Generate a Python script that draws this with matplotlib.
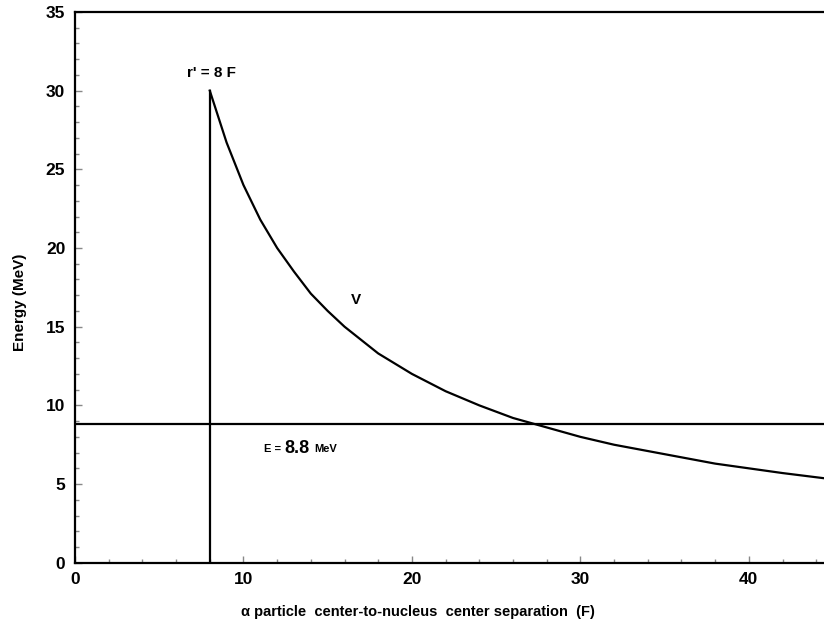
import matplotlib.pyplot as plt
from matplotlib.ticker import MultipleLocator

# separation r (F) and potential barrier V (MeV)
r_vals = [8, 9, 10, 11, 12, 13, 14, 15, 16, 18, 20, 22, 24, 26, 28, 30,
          32, 35, 38, 40, 42, 45]
v_vals = [30.0, 26.7, 24.0, 21.8, 20.0, 18.5, 17.1, 16.0, 15.0, 13.3, 12.0,
          10.9, 10.0, 9.2, 8.6, 8.0, 7.5, 6.9, 6.3, 6.0, 5.7, 5.3]

r_prime = 8
v_peak = 30.0
energy = 8.8

plt.rcParams['font.family'] = ['Liberation Sans', 'DejaVu Sans']
plt.rcParams['font.weight'] = 'bold'

fig = plt.figure(figsize=(8.24, 6.26), dpi=100)
ax = fig.add_axes([0.091, 0.101, 0.92, 0.88])

ax.plot(r_vals, v_vals, color='black', lw=1.6)
ax.plot([r_prime, r_prime], [0, v_peak], color='black', lw=1.6)
ax.axhline(energy, color='black', lw=1.6)

ax.text(r_prime + 0.1, 31.1, "r' = 8 F", ha='center', va='center',
        fontsize=11, fontweight='bold')
ax.text(16.7, 16.7, 'V', ha='center', va='center', fontsize=11,
        fontweight='bold')
ax.text(11.2, 7.2, 'E =', ha='left', va='center', fontsize=8, fontweight='bold')
ax.text(12.4, 7.25, '8.8', ha='left', va='center', fontsize=13, fontweight='bold')
ax.text(14.2, 7.2, 'MeV', ha='left', va='center', fontsize=8, fontweight='bold')

ax.set_xlim(0, 45)
ax.set_ylim(0, 35)
ax.xaxis.set_major_locator(MultipleLocator(10))
ax.xaxis.set_minor_locator(MultipleLocator(2))
ax.yaxis.set_major_locator(MultipleLocator(5))
ax.yaxis.set_minor_locator(MultipleLocator(1))
ax.tick_params(which='both', direction='in', color='#888888')
ax.tick_params(which='major', length=5, width=1, labelsize=12.5, pad=7)
ax.tick_params(which='minor', length=3, width=1)
for lab in ax.get_xticklabels() + ax.get_yticklabels():
    lab.set_fontweight('bold')

for side in ['left', 'bottom', 'top']:
    ax.spines[side].set_linewidth(1.6)
ax.spines['right'].set_visible(False)

ax.set_xlabel('α particle  center-to-nucleus  center separation  (F)',
              fontsize=10.5, fontweight='bold')
ax.set_ylabel('Energy (MeV)', fontsize=11, fontweight='bold')
ax.xaxis.set_label_coords(0.453, -0.077)
ax.yaxis.set_label_coords(-0.063, 0.473)

fig.savefig('out.png', dpi=100)
